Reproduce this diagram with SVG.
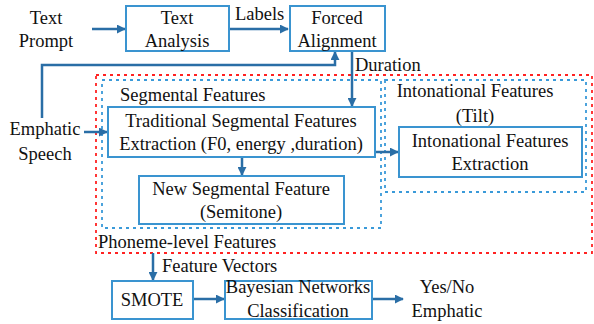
<svg xmlns="http://www.w3.org/2000/svg" width="594" height="324" viewBox="0 0 594 324">
<style>
text{font-family:"Liberation Serif","Times New Roman",serif;font-size:18.5px;fill:#111}
.c{text-anchor:middle}
.box{fill:#fff;stroke:#3a94d0;stroke-width:2}
.ln{fill:none;stroke:#2a6ea6;stroke-width:2.5}
.red{fill:none;stroke:#f22;stroke-width:1.8;stroke-dasharray:3 4}
.blu{fill:none;stroke:#3a9ad9;stroke-width:1.8;stroke-dasharray:3 4}
</style>
<defs>
<marker id="ah" viewBox="0 0 10 10" refX="9" refY="5" markerWidth="3.6" markerHeight="3.6" orient="auto" markerUnits="strokeWidth">
<path d="M0,0 L10,5 L0,10 Z" fill="#2a6ea6"/>
</marker>
</defs>
<g id="groups">
<rect class="red" x="96" y="75" width="496" height="178"/>
<rect class="blu" x="102" y="80" width="279" height="148"/>
<rect class="blu" x="385" y="80" width="201" height="112"/>
<text x="120" y="101">Segmental Features</text>
<text class="c" x="475" y="97">Intonational Features</text>
<text class="c" x="475" y="122">(Tilt)</text>
<text x="98" y="248">Phoneme-level Features</text>
</g>
<g id="connectors">
<path class="ln" d="M92,29 H125" marker-end="url(#ah)"/>
<path class="ln" d="M229,29 H288" marker-end="url(#ah)"/>
<path class="ln" d="M42,118 V65 H335 V52" marker-end="url(#ah)"/>
<path class="ln" d="M352,51 V106" marker-end="url(#ah)"/>
<path class="ln" d="M84,132 H107" marker-end="url(#ah)"/>
<path class="ln" d="M242,157 V175" marker-end="url(#ah)"/>
<path class="ln" d="M375,152 H398" marker-end="url(#ah)"/>
<path class="ln" d="M153,253 V280" marker-end="url(#ah)"/>
<path class="ln" d="M193,299 H224" marker-end="url(#ah)"/>
<path class="ln" d="M372,299 H403" marker-end="url(#ah)"/>
<text x="235" y="20">Labels</text>
<text x="355" y="71">Duration</text>
<text x="162" y="272">Feature Vectors</text>
</g>
<g id="text-prompt">
<text class="c" x="46" y="24">Text</text>
<text class="c" x="46" y="47">Prompt</text>
</g>
<g id="text-analysis">
<rect class="box" x="126" y="6" width="103" height="45"/>
<text class="c" x="177" y="24">Text</text>
<text class="c" x="177" y="47">Analysis</text>
</g>
<g id="forced-alignment">
<rect class="box" x="290" y="6" width="95" height="45"/>
<text class="c" x="337" y="24">Forced</text>
<text class="c" x="337" y="47">Alignment</text>
</g>
<g id="emphatic-speech">
<text class="c" x="45" y="135">Emphatic</text>
<text class="c" x="45" y="160">Speech</text>
</g>
<g id="traditional">
<rect class="box" x="108" y="107" width="267" height="50"/>
<text class="c" x="241" y="127">Traditional Segmental Features</text>
<text class="c" x="241" y="150">Extraction (F0, energy ,duration)</text>
</g>
<g id="new-segmental">
<rect class="box" x="139" y="176" width="205" height="48"/>
<text class="c" x="241" y="195">New Segmental Feature</text>
<text class="c" x="241" y="218">(Semitone)</text>
</g>
<g id="intonational-extraction">
<rect class="box" x="399" y="127" width="183" height="50"/>
<text class="c" x="490" y="147">Intonational Features</text>
<text class="c" x="490" y="170">Extraction</text>
</g>
<g id="smote">
<rect class="box" x="112" y="281" width="81" height="38"/>
<text class="c" x="152" y="306">SMOTE</text>
</g>
<g id="bayesian">
<rect class="box" x="225" y="281" width="147" height="38"/>
<text class="c" x="298" y="293">Bayesian Networks</text>
<text class="c" x="298" y="317">Classification</text>
</g>
<g id="yes-no">
<text class="c" x="447" y="293">Yes/No</text>
<text class="c" x="447" y="317">Emphatic</text>
</g>
</svg>
